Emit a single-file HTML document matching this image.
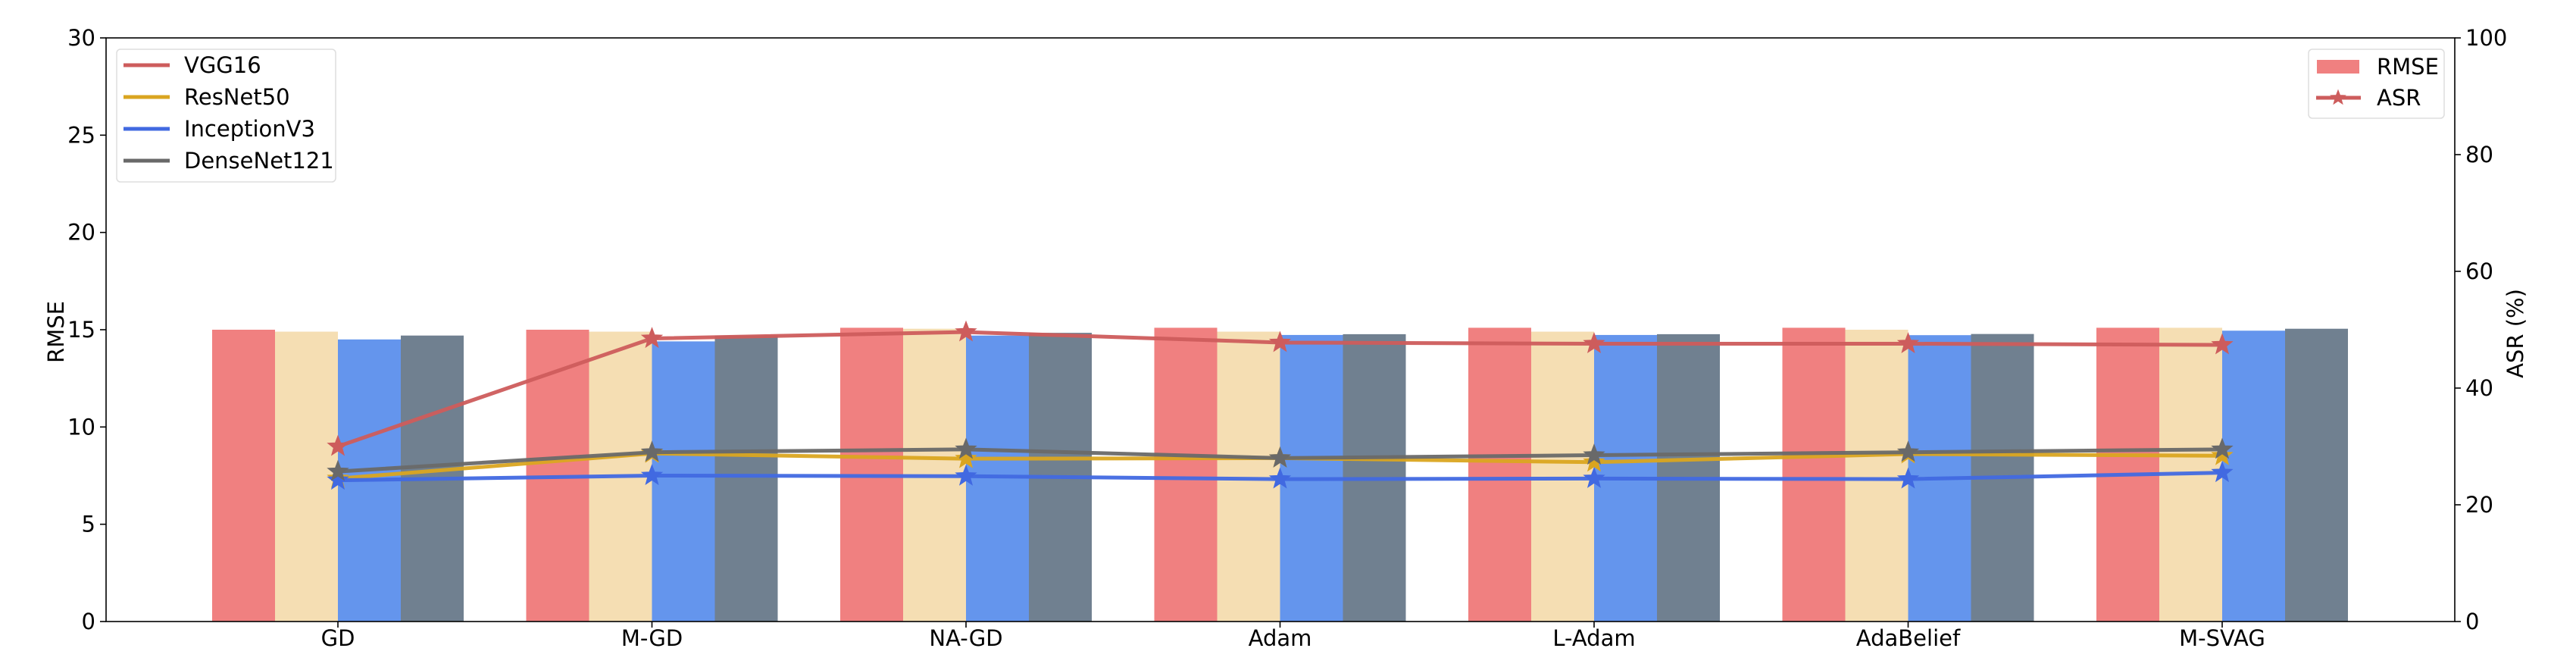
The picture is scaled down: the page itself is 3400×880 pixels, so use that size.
<!DOCTYPE html>
<html><head><meta charset="utf-8"><style>
html,body{margin:0;padding:0;background:#fff;}
svg{display:block;font-family:"DejaVu Sans","Liberation Sans",sans-serif;}
</style></head><body>
<svg id="chart" width="3400" height="880" viewBox="0 0 3400 880" xmlns="http://www.w3.org/2000/svg"></svg>
<script>
const categories = ["GD","M-GD","NA-GD","Adam","L-Adam","AdaBelief","M-SVAG"];
const models = ["VGG16","ResNet50","InceptionV3","DenseNet121"];
const rmseVGG16 = [15.0,15.0,15.1,15.1,15.1,15.1,15.1];
const rmseResNet50 = [14.9,14.9,15.05,14.9,14.9,15.0,15.1];
const rmseInceptionV3 = [14.5,14.4,14.7,14.73,14.73,14.72,14.95];
const rmseDenseNet121 = [14.7,14.7,14.84,14.77,14.77,14.78,15.05];
const asrVGG16 = [30.0,48.5,49.6,47.8,47.6,47.6,47.4];
const asrResNet50 = [24.5,28.8,27.9,28.0,27.3,28.7,28.4];
const asrInceptionV3 = [24.2,25.0,24.9,24.4,24.5,24.4,25.5];
const asrDenseNet121 = [25.7,29.0,29.5,28.0,28.5,29.0,29.5];
const leftTicks = [0,5,10,15,20,25,30];
const rightTicks = [0,20,40,60,80,100];

const NS="http://www.w3.org/2000/svg";
const svg=document.getElementById('chart');
const L=140,R=3240,T=50,B=820;
const x=i=>446+i*414.5;
const yL=v=>B-(v/30)*(B-T);
const yR=v=>B-(v/100)*(B-T);
const bw=83;
function mk(tag,attrs,parent){const e=document.createElementNS(NS,tag);for(const k in attrs)e.setAttribute(k,attrs[k]);(parent||svg).appendChild(e);return e;}
function star(cx,cy,r,color,parent){let p=[];for(let k=0;k<10;k++){const a=-Math.PI/2+k*Math.PI/5;const rr=k%2?r*0.42:r;p.push((cx+rr*Math.cos(a)).toFixed(1)+','+(cy+rr*Math.sin(a)).toFixed(1));}return mk('polygon',{points:p.join(' '),fill:color,stroke:color,'stroke-width':1},parent);}

const rmse=[rmseVGG16,rmseResNet50,rmseInceptionV3,rmseDenseNet121];
const asr=[asrVGG16,asrResNet50,asrInceptionV3,asrDenseNet121];
const barColors=["#F08080","#F5DEB3","#6495ED","#708090"];
const lineColors=["#CD5C5C","#DAA520","#4169E1","#696969"];

const bars=mk('g',{});


rmse.forEach((s,m)=>{s.forEach((v,i)=>{
  const r=mk('rect',{x:x(i)+(m-2)*bw,y:yL(v),width:bw,height:B-yL(v),fill:barColors[m]},bars);
  
  
});});

asr.forEach((s,m)=>{
  const g=mk('g',{});
  
  
  mk('polyline',{points:s.map((v,i)=>x(i)+','+yR(v)).join(' '),fill:'none',stroke:lineColors[m],'stroke-width':5,'stroke-linejoin':'round','stroke-opacity':0.95},g);
  s.forEach((v,i)=>{const st=star(x(i),yR(v),14,lineColors[m],g);
    
    });
});

const frame=mk('rect',{x:L,y:T,width:R-L,height:B-T,fill:'none',stroke:'#000','stroke-width':1.6});



leftTicks.forEach(t=>{
  mk('line',{x1:L-8,x2:L,y1:yL(t),y2:yL(t),stroke:'#000','stroke-width':1.6});
  const tx=mk('text',{x:L-14,y:yL(t)+10,'text-anchor':'end','font-size':29},svg);tx.textContent=t;
  
  
});
rightTicks.forEach(t=>{
  mk('line',{x1:R,x2:R+8,y1:yR(t),y2:yR(t),stroke:'#000','stroke-width':1.6});
  const tx=mk('text',{x:R+14,y:yR(t)+10,'font-size':29},svg);tx.textContent=t;
  
  
});
categories.forEach((c,i)=>{
  mk('line',{x1:x(i),x2:x(i),y1:B,y2:B+8,stroke:'#000','stroke-width':1.6});
  const tx=mk('text',{x:x(i),y:B+32,'text-anchor':'middle','font-size':29},svg);tx.textContent=c;
  
  
});
const yl=mk('text',{x:0,y:0,'text-anchor':'middle','font-size':29,transform:'translate(84,438) rotate(-90)'});yl.textContent='RMSE';


const yr=mk('text',{x:0,y:0,'text-anchor':'middle','font-size':29,transform:'translate(3330,440) rotate(-90)'});yr.textContent='ASR (%)';



const lg=mk('g',{});


mk('rect',{x:154,y:65,width:289,height:175,rx:5,fill:'#fff','fill-opacity':0.8,stroke:'#ddd','stroke-width':1.5},lg);
models.forEach((m,k)=>{const yy=86+k*42;
  mk('line',{x1:163,x2:224,y1:yy,y2:yy,stroke:lineColors[k],'stroke-width':5},lg);
  const t=mk('text',{x:243,y:yy+10,'font-size':29},lg);t.textContent=m;
  
  
});
const rg=mk('g',{});


mk('rect',{x:3047,y:65,width:179,height:91,rx:5,fill:'#fff','fill-opacity':0.8,stroke:'#ddd','stroke-width':1.5},rg);
mk('rect',{x:3058,y:79,width:56,height:18,fill:'#F08080'},rg);
let t1=mk('text',{x:3137,y:98,'font-size':29},rg);t1.textContent='RMSE';


mk('line',{x1:3057,x2:3116,y1:129,y2:129,stroke:'#CD5C5C','stroke-width':5},rg);
star(3086,129,10,'#CD5C5C',rg);
let t2=mk('text',{x:3137,y:139,'font-size':29},rg);t2.textContent='ASR';


</script>
</body></html>
